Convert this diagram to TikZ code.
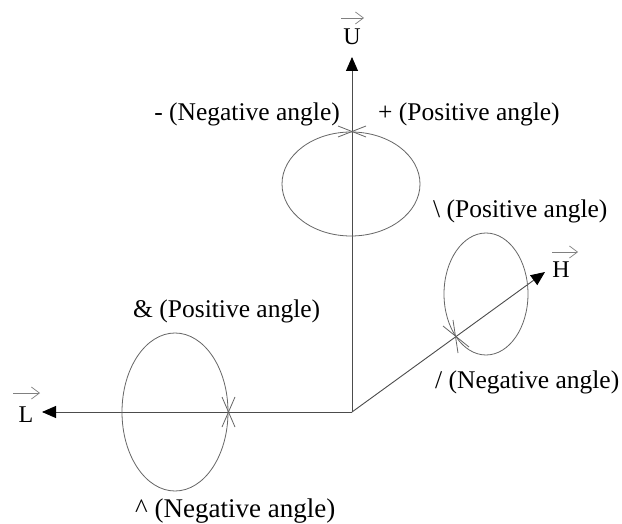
\documentclass[tikz,border=0pt]{standalone}
\usepackage{fontspec}
\setmainfont{Liberation Serif}
\usetikzlibrary{arrows.meta}
\begin{document}
\begin{tikzpicture}[x=1pt,y=-1pt,
  axis/.style={draw=black!70, line width=0.9pt, -{Triangle[length=14pt,width=12pt,color=black]}},
  loopline/.style={draw=black!60, line width=0.8pt},
  tickmark/.style={draw=black!60, line width=0.8pt},
  lbl/.style={inner sep=0pt, font=\fontsize{25.5}{30}\selectfont, anchor=base west},
  vec/.style={inner sep=0pt, font=\fontsize{24}{28}\selectfont, anchor=base},
  vecarrow/.style={draw=black!50, line width=0.7pt, -{Straight Barb[length=8pt,width=12pt]}}
]
\useasboundingbox (0,0) rectangle (622,524);
\fill[white] (0,0) rectangle (622,524);

% axes
\coordinate (O) at (352,412);
\coordinate (Utip) at (352,57);
\coordinate (Ltip) at (42,412);
\coordinate (Htip) at (545,272);
\draw[axis] (O) -- (Utip);
\draw[axis] (O) -- (Ltip);
\draw[axis] (O) -- (Htip);

% vector labels
\node[vec] (U) at (352,45) {U};
\node[vec] (L) at (26,422) {L};
\node[vec] (H) at (561,277) {H};
\coordinate (Ua) at (341,18); \coordinate (Ub) at (364,18);
\coordinate (La) at (13,393); \coordinate (Lb) at (40,393);
\coordinate (Ha) at (552,252); \coordinate (Hb) at (578,252);
\draw[vecarrow] (Ua) -- (Ub);
\draw[vecarrow] (La) -- (Lb);
\draw[vecarrow] (Ha) -- (Hb);

% ellipses
\draw[loopline] (351,184) ellipse [x radius=69pt, y radius=52pt];
\draw[loopline] (175,412) ellipse [x radius=53pt, y radius=79pt];
\draw[loopline] (486,294) ellipse [x radius=42pt, y radius=61pt];

% crossing marks
\draw[tickmark] (338,126) -- (366,137);
\draw[tickmark] (338,137) -- (366,126);
\draw[tickmark] (222,397) -- (235,427);
\draw[tickmark] (235,397) -- (222,427);
\draw[tickmark] (453,320) -- (458,353);
\draw[tickmark] (443,326) -- (469,347);

% labels
\node[lbl, anchor=base east] (neg1) at (340,121) {- (Negative angle)};
\node[lbl] (pos1) at (378,121) {+ (Positive angle)};
\node[lbl] (pos2) at (433,218) {\textbackslash{} (Positive angle)};
\node[lbl] (neg2) at (435,388) {/ (Negative angle)};
\node[lbl] (pos3) at (133,317) {\& (Positive angle)};
\node[lbl, font=\fontsize{27}{32}\selectfont] (neg3) at (135,517) {\textasciicircum{} (Negative angle)};
\end{tikzpicture}
\end{document}
